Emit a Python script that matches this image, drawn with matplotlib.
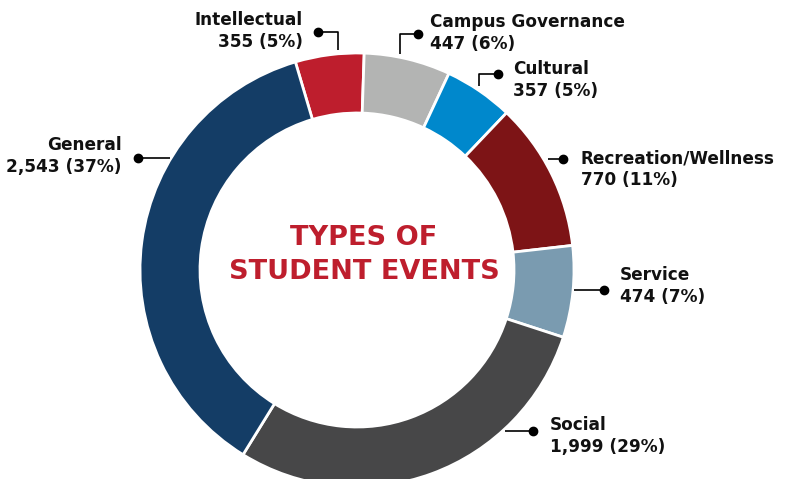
import matplotlib
matplotlib.use("Agg")
import matplotlib.pyplot as plt

# Event counts by type (clockwise from the top)
categories = ["Intellectual", "Campus Governance", "Cultural", "Recreation/Wellness",
              "Service", "Social", "General"]
counts = [355, 447, 357, 770, 474, 1999, 2543]
colors = ["#BE1E2D", "#B3B4B3", "#0088CC", "#7D1416", "#7A9BB0", "#474748", "#143D66"]

title_lines = ["TYPES OF", "STUDENT EVENTS"]

# Label layout in pixels (top-left origin): text x, text y, alignment, connector points
H = 479
label_layout = {
    "Intellectual": (303, 31, "right", [(318, 32), (338, 32), (338, 50)]),
    "Campus Governance": (430, 33, "left", [(418, 34), (400, 34), (400, 54)]),
    "Cultural": (513, 80, "left", [(498, 74), (479, 74), (479, 86)]),
    "Recreation/Wellness": (581, 169, "left", [(563, 159), (548, 159)]),
    "Service": (620, 286, "left", [(604, 290), (574, 290)]),
    "Social": (550, 436, "left", [(533, 431), (505, 431)]),
    "General": (122, 156, "right", [(138, 158), (170, 158)]),
}

fig = plt.figure(figsize=(8.04, 4.79), dpi=100)
ax = fig.add_axes([0, 0, 1, 1])

total = sum(counts)
ax.pie(counts, colors=colors, center=(357, H - 270), radius=217,
       startangle=106.5, counterclock=False,
       wedgeprops=dict(width=60, edgecolor="white", linewidth=2))

for name, value in zip(categories, counts):
    tx, ty, ha, pts = label_layout[name]
    xs = [p[0] for p in pts]
    ys = [H - p[1] for p in pts]
    ax.plot(xs, ys, color="black", lw=1.2, solid_capstyle="butt")
    ax.plot(xs[0], ys[0], "o", color="black", ms=6)
    pct = round(value / total * 100)
    ax.text(tx, H - ty, f"{name}\n{value:,} ({pct}%)", ha=ha, va="center",
            fontsize=12.2, fontweight="bold", color="#111111", linespacing=1.25,
            family="DejaVu Sans")

# centre title
ax.text(364, H - 255, "\n".join(title_lines), ha="center", va="center",
        fontsize=19.5, fontweight="bold", color="#BE1E2D", linespacing=1.4,
        family="DejaVu Sans")

ax.set_xlim(0, 804)
ax.set_ylim(0, H)
ax.set_aspect("equal")
ax.axis("off")
fig.savefig("out.png", dpi=100, facecolor="white")
